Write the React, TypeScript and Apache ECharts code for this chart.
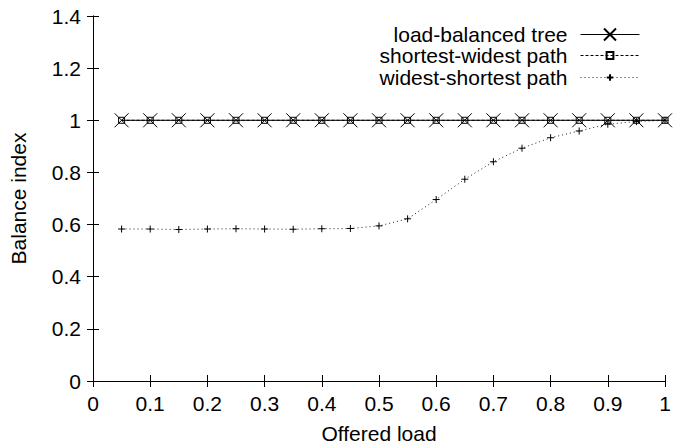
import React, { useEffect, useRef } from "react";
import * as echarts from "echarts";

const loads = [0.05, 0.1, 0.15, 0.2, 0.25, 0.3, 0.35, 0.4, 0.45, 0.5, 0.55, 0.6, 0.65, 0.7, 0.75, 0.8, 0.85, 0.9, 0.95, 1.0];
const loadBalancedTree = [1, 1, 1, 1, 1, 1, 1, 1, 1, 1, 1, 1, 1, 1, 1, 1, 1, 1, 1, 1];
const shortestWidest = [1, 1, 1, 1, 1, 1, 1, 1, 1, 1, 1, 1, 1, 1, 1, 1, 1, 1, 1, 1];
const widestShortest = [0.583, 0.583, 0.581, 0.583, 0.584, 0.583, 0.582, 0.584, 0.585, 0.595, 0.622, 0.696, 0.774, 0.841, 0.893, 0.933, 0.959, 0.985, 0.995, 1.0];
const seriesNames = ["load-balanced tree", "shortest-widest path", "widest-shortest path"];

const FONT = "Liberation Sans";
const FS = 21;

function pairs(ys: number[]) {
  return loads.map((x, i) => [x, ys[i]]);
}

export default function App() {
  const ref = useRef<HTMLDivElement>(null);
  useEffect(() => {
    if (!ref.current) return;
    const chart = echarts.init(ref.current, null, { renderer: "svg" });
    const axisLine = { show: true, lineStyle: { color: "#000", width: 1 } };
    const tick = { show: true, inside: true, length: 6, lineStyle: { color: "#000", width: 1 } };
    const label = { color: "#000", fontSize: FS, fontFamily: FONT, margin: 12 };
    const mkLegend = (name: string, top: number, itemHeight: number) => ({
      data: [name],
      orient: "horizontal",
      align: "right",
      right: 34,
      top,
      padding: 0,
      itemGap: 0,
      itemWidth: 59,
      itemHeight,
      lineStyle: { width: 1 },
      textStyle: { color: "#000", fontSize: FS, fontFamily: FONT, padding: [0, 8, 0, 0] },
    });
    chart.setOption({
      animation: false,
      backgroundColor: "#fff",
      grid: { left: 93, top: 16, right: 9, bottom: 63, containLabel: false, outerBoundsMode: "none" },
      legend: [
        mkLegend(seriesNames[0], 24, 15),
        mkLegend(seriesNames[1], 45, 8.5),
        mkLegend(seriesNames[2], 67, 8),
      ],
      xAxis: [
        {
          type: "value", min: 0, max: 1, interval: 0.1, position: "bottom",
          name: "Offered load", nameLocation: "middle", nameGap: 42,
          nameTextStyle: { color: "#000", fontSize: FS, fontFamily: FONT },
          axisLine, axisTick: tick, axisLabel: label, splitLine: { show: false },
        },
        {
          type: "value", min: 0, max: 1, interval: 0.1, position: "top",
          axisLine, axisTick: tick, axisLabel: { show: false }, splitLine: { show: false },
        },
      ],
      yAxis: [
        {
          type: "value", min: 0, max: 1.4, interval: 0.2, position: "left",
          name: "Balance index", nameLocation: "middle", nameGap: 64,
          nameTextStyle: { color: "#000", fontSize: FS, fontFamily: FONT },
          axisLine, axisTick: tick, axisLabel: label, splitLine: { show: false },
        },
        {
          type: "value", min: 0, max: 1.4, interval: 0.2, position: "right",
          axisLine, axisTick: tick, axisLabel: { show: false }, splitLine: { show: false },
        },
      ],
      series: [
        {
          name: seriesNames[0], type: "line", data: pairs(loadBalancedTree),
          symbol: "path://M0 0L10 10M10 0L0 10", symbolSize: 14, showAllSymbol: true,
          lineStyle: { color: "#000", width: 1, type: "solid" },
          itemStyle: { color: "transparent", borderColor: "#000", borderWidth: 1 },
          z: 2,
        },
        {
          name: seriesNames[1], type: "line", data: pairs(shortestWidest),
          symbol: "rect", symbolSize: 6, showAllSymbol: true,
          lineStyle: { color: "#000", width: 1, type: [3, 2] },
          itemStyle: { color: "transparent", borderColor: "#000", borderWidth: 1 },
          z: 3,
        },
        {
          name: seriesNames[2], type: "line", data: pairs(widestShortest),
          symbol: "path://M5 0L5 10M0 5L10 5", symbolSize: 7, showAllSymbol: true,
          lineStyle: { color: "#222", width: 1, type: [1, 3] },
          itemStyle: { color: "transparent", borderColor: "#000", borderWidth: 1 },
          z: 3,
        },
      ],
    });
    return () => chart.dispose();
  }, []);
  return (
    <div
      ref={ref}
      style={{ position: "fixed", left: 0, top: 0, width: 674, height: 444, background: "#fff" }}
    />
  );
}
